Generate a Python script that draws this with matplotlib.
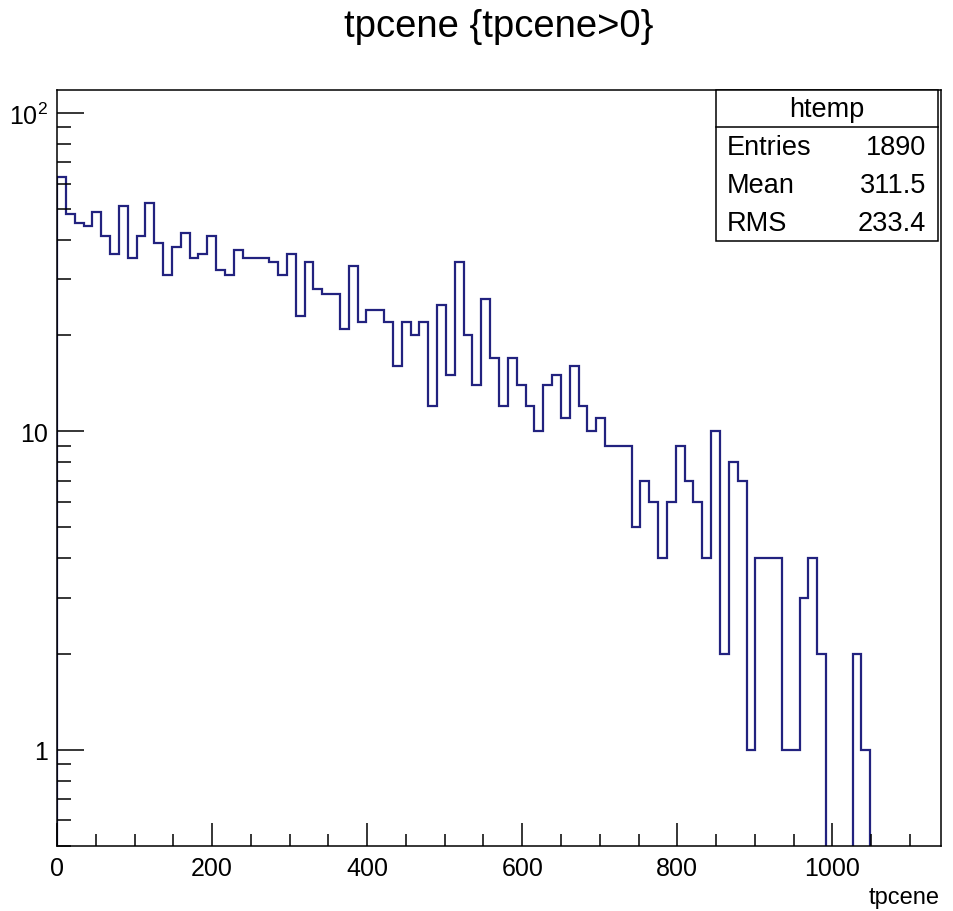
import numpy as np
import matplotlib
matplotlib.use('Agg')
import matplotlib.pyplot as plt
from matplotlib.ticker import LogLocator, MultipleLocator, NullFormatter, FixedLocator
from matplotlib.patches import Rectangle
from matplotlib.lines import Line2D

# ---------------- data ----------------
counts = [63, 48, 45, 44, 49, 41, 36, 51, 35, 41,
          52, 39, 31, 38, 42, 35, 36, 41, 32, 31,
          37, 35, 35, 35, 34, 31, 36, 23, 34, 28,
          27, 27, 21, 33, 22, 24, 24, 22, 16, 22,
          20, 22, 12, 25, 15, 34, 20, 14, 26, 17,
          12, 17, 14, 12, 10, 14, 15, 11, 16, 12,
          10, 11, 9, 9, 9, 5, 7, 6, 4, 6,
          9, 7, 6, 4, 10, 2, 8, 7, 1, 4,
          4, 4, 1, 1, 3, 4, 2, 0, 0, 0,
          2, 1, 0, 0, 0, 0, 0, 0, 0, 0]
x_min, x_max, n_bins = 0.0, 1140.0, 100
x_ticks = [0, 200, 400, 600, 800, 1000]
x_tick_labels = ['0', '200', '400', '600', '800', '1000']
y_ticks = [1, 10, 100]
y_tick_labels = ['1', '10', r'$10^{2}$']
y_min, y_max = 0.5, 118
title = 'tpcene {tpcene>0}'
x_label = 'tpcene'
stats_name = 'htemp'
stats_labels = ['Entries', 'Mean', 'RMS']
stats_values = ['1890', '311.5', '233.4']

# ---------------- style ----------------
FONT = ['Liberation Sans Narrow', 'Liberation Sans', 'DejaVu Sans']
plt.rcParams['font.family'] = FONT
plt.rcParams['mathtext.fontset'] = 'custom'
plt.rcParams['mathtext.rm'] = 'Liberation Sans'
plt.rcParams['mathtext.it'] = 'Liberation Sans'
LINE = '#22227f'

W, H = 954, 912
fig = plt.figure(figsize=(W / 100, H / 100), dpi=100)
fx = lambda px: px / W
fy = lambda py: 1 - py / H

ax = fig.add_axes([fx(57), fy(846.5), fx(941) - fx(57), fy(91) - fy(846.5)])

edges = np.linspace(x_min, x_max, n_bins + 1)
vals = np.asarray(counts, dtype=float)
floor = 1e-3
plotted = np.where(vals > 0, vals, floor)
ax.stairs(plotted, edges, baseline=floor, color=LINE, linewidth=1.6)

ax.set_yscale('log')
ax.set_xlim(x_min, x_max)
ax.set_ylim(y_min, y_max)

ax.xaxis.set_major_locator(FixedLocator(x_ticks))
ax.set_xticklabels(x_tick_labels)
ax.xaxis.set_minor_locator(MultipleLocator(50))
ax.yaxis.set_major_locator(FixedLocator(y_ticks))
ax.set_yticklabels(y_tick_labels)
ax.yaxis.set_minor_locator(LogLocator(base=10, subs=np.arange(2, 10)))
ax.yaxis.set_minor_formatter(NullFormatter())

ax.tick_params(axis='x', which='major', direction='in', length=16.5, width=1.1,
               labelsize=18, pad=7.5, top=False)
ax.tick_params(axis='x', which='minor', direction='in', length=8.5, width=1.1, top=False)
ax.tick_params(axis='y', which='major', direction='in', length=19.5, width=1.1,
               labelsize=18, pad=6.5, right=False)
ax.tick_params(axis='y', which='minor', direction='in', length=10, width=1.1, right=False)
for s in ax.spines.values():
    s.set_linewidth(1.1)
    s.set_color('black')

# title and axis label
fig.text(fx(499), fy(37), title, ha='center', va='baseline', fontsize=27.5)
fig.text(fx(940), fy(904), x_label, ha='right', va='baseline', fontsize=17)

# stats box
bx0, bx1, by0, by1, bsep = 716, 938, 91, 242, 128
fig.add_artist(Rectangle((fx(bx0), fy(by1)), fx(bx1) - fx(bx0), fy(by0) - fy(by1),
                         transform=fig.transFigure, facecolor='white',
                         edgecolor='black', linewidth=1.1, zorder=5))
fig.add_artist(Line2D([fx(bx0), fx(bx1)], [fy(bsep), fy(bsep)],
                      transform=fig.transFigure, color='black', linewidth=1.1, zorder=6))
fig.text(fx((bx0 + bx1) / 2), fy(110), stats_name, ha='center', va='center',
         fontsize=19.5, zorder=7)
row_y = [148, 186, 224]
for lab, val, yy in zip(stats_labels, stats_values, row_y):
    fig.text(fx(727), fy(yy), lab, ha='left', va='center', fontsize=19.5, zorder=7)
    fig.text(fx(926), fy(yy), val, ha='right', va='center', fontsize=19.5, zorder=7)

fig.savefig('out.png', dpi=100)
